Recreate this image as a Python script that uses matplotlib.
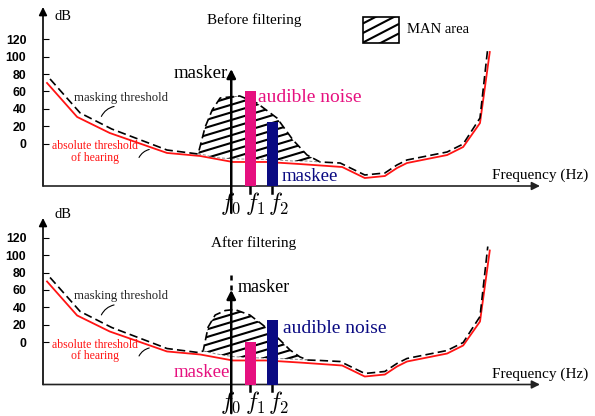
import numpy as np
import matplotlib.pyplot as plt
from matplotlib.patches import Polygon, Rectangle

plt.rcParams['font.family'] = ['Liberation Serif', 'DejaVu Serif']
plt.rcParams['mathtext.fontset'] = 'cm'

# frequency in arbitrary units (0..100), level in dB
quiet_x = [0.8, 6.8, 13.3, 24.7, 31.3, 37.8, 44.6, 51.2, 59.6, 64.1, 68.1, 70.5, 72.5, 80.5, 83.7, 87.05, 89.0]
quiet_db = [69.8, 30.6, 12.1, -10.9, -14.4, -21.3, -21.3, -23.7, -27.1, -39.8, -37.5, -28.3, -22.5, -13.3, -4.0, 23.6, 105.5]

mask_left_x = [1.4, 7.4, 13.7, 24.7, 30.9]
mask_left_db = [74.4, 35.2, 16.7, -7.5, -12.1]
mask_right_x = [55.2, 59.2, 64.1, 68.1, 70.5, 72.5, 80.5, 83.7, 87.05, 88.6]
mask_right_db = [-21.3, -22.5, -36.3, -34.0, -24.8, -19.0, -9.8, -0.6, 29.4, 110.1]

# masking hump caused by the masker (MAN area between top and base)
hump_before_x = [30.9, 32.3, 33.7, 35.3, 39.2, 42.6, 46.6, 49.8, 52.6, 55.2]
hump_before_top = [-12.1, 19.0, 38.6, 52.5, 54.8, 46.7, 29.4, 4.0, -13.3, -21.3]
hump_before_base = [-12.1, -13.3, -15.6, -16.7, -17.9, -17.9, -19.0, -20.2, -20.2, -21.3]

hump_after_x = [31.9, 32.9, 34.3, 36.3, 38.2, 41.2, 43.8, 46.8, 49.2, 51.2, 52.8]
hump_after_top = [-10.4, 17.3, 31.1, 36.3, 37.5, 31.1, 19.6, 4.6, -9.2, -17.3, -20.8]
hump_after_base = [-10.4, -11.5, -13.5, -15.5, -17.0, -18.0, -18.5, -19.0, -19.5, -20.2, -20.8]

masker_f = 37.5
tone_f = [41.3, 45.7]          # f1, f2
before_levels = [60, 25]
after_levels = [0, 25]
yticks = [0, 20, 40, 60, 80, 100, 120]

PINK = '#E6107F'
NAVY = '#0A0A82'
RED = '#FF1414'
FLOOR = -49


def hatch(ax, patch, x0, x1, y0, y1, k=1.74, step=8.8):
    ax.add_patch(patch)
    span = k * (x1 - x0)
    for b in np.arange(y0 - span, y1 + step, step):
        ln, = ax.plot([x0, x1], [b, b + span], color='k', lw=1.5, solid_capstyle='butt')
        ln.set_clip_path(patch)


def panel(ax, hx, htop, hbase, levels, title, title_y, ytip, after):
    ax.set_xlim(0, 100)
    ax.set_ylim(FLOOR, 159.7)
    ax.set_facecolor('none')
    for s in ax.spines.values():
        s.set_visible(False)
    ax.set_xticks([])
    ax.set_yticks(yticks)
    ax.tick_params(axis='y', direction='in', length=4, pad=12, labelsize=8.8, width=0.8)
    for t in ax.get_yticklabels():
        t.set_fontfamily('Liberation Sans')
        t.set_fontweight('bold')

    arrow = dict(arrowstyle='-|>', lw=1.2, color='k', mutation_scale=12, shrinkA=0, shrinkB=0)
    ax.annotate('', xy=(0, ytip), xytext=(0, FLOOR), arrowprops=arrow, annotation_clip=False)
    ax.annotate('', xy=(99, FLOOR), xytext=(0, FLOOR),
                arrowprops=dict(arrow, color='#222222'), annotation_clip=False)
    ax.text(3.9, 147, 'dB', fontsize=10.5, ha='center', va='center')
    ax.text(42, title_y, title, fontsize=11, ha='center', va='center')
    ax.text(89.4, -37, 'Frequency (Hz)', fontsize=11, ha='left', va='center')

    # curves
    ax.plot(quiet_x, quiet_db, color=RED, lw=1.3)
    mx = mask_left_x + hx + mask_right_x
    my = mask_left_db + htop + mask_right_db
    ax.plot(mx, my, color='k', lw=1.2, dashes=(5, 2.5))
    ax.plot(hx, hbase, color='#888888', lw=0.7, dashes=(3, 2))
    poly = Polygon(np.column_stack([hx + hx[::-1], htop + hbase[::-1]]),
                   facecolor='none', edgecolor='none')
    hatch(ax, poly, min(hx), max(hx), min(hbase), max(htop))

    # labels and leaders
    ax.text(6.2, 52.5, 'masking threshold', fontsize=9.2, ha='left', va='center', color='#222222')
    ax.annotate('', xy=(11.4, 28.3), xytext=(14.7, 43.3),
                arrowprops=dict(arrowstyle='-', lw=0.8, connectionstyle='arc3,rad=0.3'))
    ax.text(10.3, -10, 'absolute threshold\nof hearing', fontsize=8.5, ha='center', va='center',
            color=RED, linespacing=0.95)
    ax.annotate('', xy=(21.7, -6.3), xytext=(18.9, -19.0),
                arrowprops=dict(arrowstyle='-', lw=0.8, connectionstyle='arc3,rad=-0.3'))

    # tones
    ax.bar(tone_f, [v - FLOOR for v in levels], bottom=FLOOR, width=2.2,
           color=[PINK, NAVY], zorder=4)
    for f in tone_f:
        ax.plot([f, f], [FLOOR, -57], color='k', lw=1.8, clip_on=False)
    ax.text(masker_f - 0.1, -69.5, r'$f_0$', fontsize=17, ha='center', va='center')
    ax.text(tone_f[0] + 0.9, -69.5, r'$f_1$', fontsize=17, ha='center', va='center')
    ax.text(tone_f[1] + 1.2, -69.5, r'$f_2$', fontsize=17, ha='center', va='center')

    if not after:
        tip = 85.9
        ax.annotate('', xy=(masker_f, tip), xytext=(masker_f, -80),
                    arrowprops=dict(arrow, lw=1.8, mutation_scale=13), annotation_clip=False, zorder=5)
        ax.text(masker_f - 0.6, 80.2, 'masker', fontsize=13.5, ha='right', va='center')
        ax.text(42.8, 52.5, 'audible noise', fontsize=14, ha='left', va='center', color=PINK)
        ax.text(47.6, -37.5, 'maskee', fontsize=13.5, ha='left', va='center', color=NAVY)
        leg = Rectangle((63.7, 115.9), 7.2, 30, facecolor='none', edgecolor='none')
        hatch(ax, leg, 63.7, 70.9, 115.9, 145.9, k=3.0, step=11)
        ax.add_patch(Rectangle((63.7, 115.9), 7.2, 30, facecolor='none', edgecolor='k', lw=1.2))
        ax.text(72.5, 132, 'MAN area', fontsize=10.5, ha='left', va='center')
    else:
        tip = 60
        ax.annotate('', xy=(masker_f, tip), xytext=(masker_f, -82),
                    arrowprops=dict(arrow, lw=1.8, mutation_scale=13), annotation_clip=False, zorder=5)
        ax.plot([masker_f, masker_f], [tip, 81], color='k', lw=1.8, dashes=(2, 2))
        ax.text(38.8, 62.3, 'masker', fontsize=13, ha='left', va='center')
        ax.text(47.8, 16.1, 'audible noise', fontsize=14, ha='left', va='center', color=NAVY)
        ax.text(37.3, -34.6, 'maskee', fontsize=13.5, ha='right', va='center', color=PINK)


fig = plt.figure(figsize=(5.95, 4.16), dpi=100)
ax_top = fig.add_axes([43 / 595, 1 - 186 / 416, 502 / 595, 181 / 416])
ax_bot = fig.add_axes([43 / 595, 1 - 384.5 / 416, 502 / 595, 181 / 416])

panel(ax_top, hump_before_x, hump_before_top, hump_before_base, before_levels,
      'Before filtering', 142.4, 157.4, after=False)
panel(ax_bot, hump_after_x, hump_after_top, hump_after_base, after_levels,
      'After filtering', 114.2, 143, after=True)

fig.savefig('out.png', dpi=100)
